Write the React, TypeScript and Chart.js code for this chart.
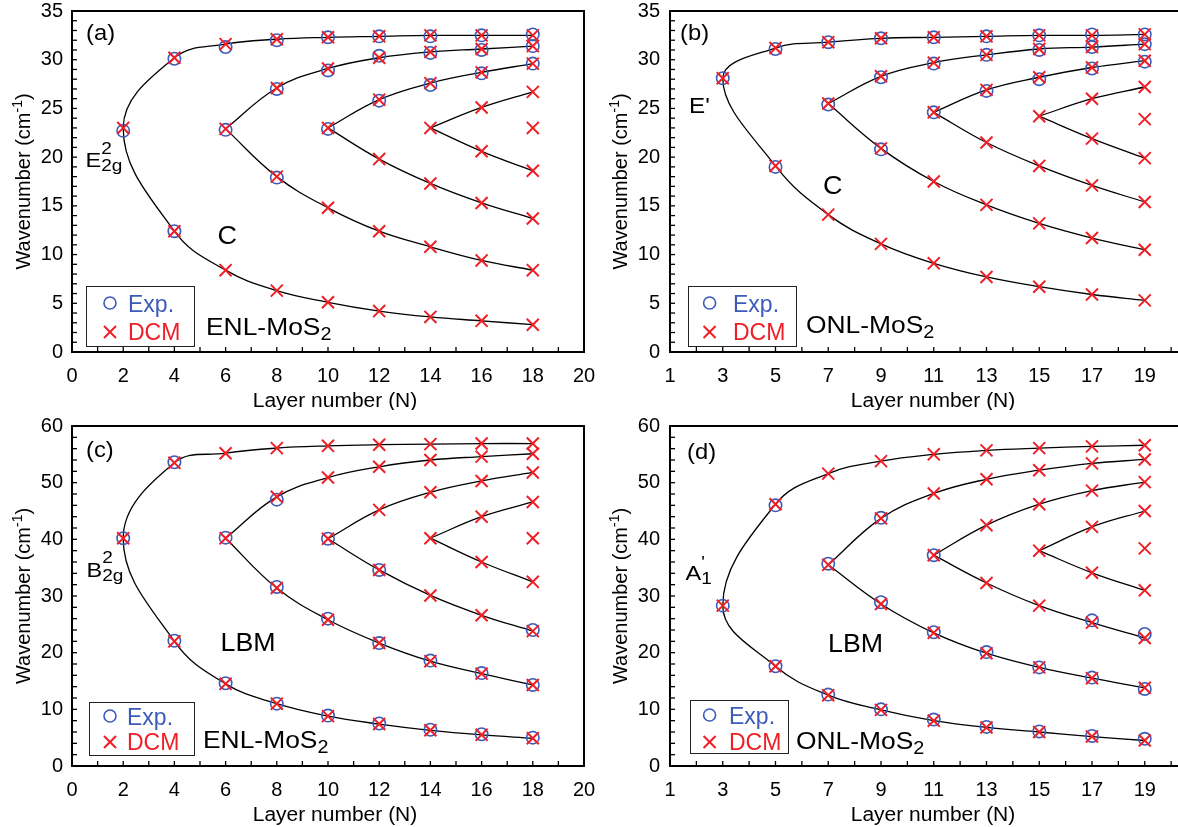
import React, { useEffect, useRef } from 'react';
import { Chart, registerables } from 'chart.js';

Chart.register(...registerables);

const FONT = '"Liberation Sans", Arial, Helvetica, sans-serif';
const BLUE = '#3c5bb8';
const RED = '#ee1f26';

// ---------------- (a) ENL-MoS2, C / E2g^2 modes ----------------
const A_N = [2, 4, 6, 8, 10, 12, 14, 16, 18];
const A_UP1 = [23.0, 30.2, 31.6, 32.1, 32.3, 32.4, 32.5, 32.5, 32.5];
const A_LO1 = [23.0, 12.4, 8.4, 6.3, 5.1, 4.2, 3.6, 3.2, 2.8];
const A_UP2 = [22.9, 27.1, 29.1, 30.2, 30.8, 31.1, 31.4];
const A_LO2 = [22.9, 18.0, 14.8, 12.4, 10.8, 9.4, 8.4];
const A_UP3 = [23.0, 25.9, 27.6, 28.7, 29.6];
const A_LO3 = [23.0, 19.8, 17.3, 15.3, 13.7];
const A_UP4 = [23.0, 25.1, 26.7];
const A_LO4 = [23.0, 20.6, 18.6];
const A_LONE = [23.0];
const A_EXP_N = [2, 4, 4, 6, 6, 8, 8, 8, 10, 10, 10, 12, 12, 12, 14, 14, 14, 16, 16, 16, 18, 18, 18];
const A_EXP_V = [22.7, 30.1, 12.4, 31.3, 22.8, 32.0, 27.0, 17.9, 32.3, 28.9, 22.9, 32.4, 30.4, 25.8, 32.4, 30.7, 27.4, 32.5, 31.0, 28.6, 32.6, 31.4, 29.6];

// ---------------- (b) ONL-MoS2, C / E' modes ----------------
const B_N = [3, 5, 7, 9, 11, 13, 15, 17, 19];
const B_UP1 = [28.1, 31.2, 31.8, 32.2, 32.3, 32.4, 32.5, 32.5, 32.6];
const B_LO1 = [28.1, 19.1, 14.1, 11.1, 9.1, 7.7, 6.7, 5.9, 5.3];
const B_UP2 = [25.5, 28.3, 29.7, 30.5, 31.1, 31.3, 31.6];
const B_LO2 = [25.5, 20.9, 17.5, 15.1, 13.2, 11.7, 10.5];
const B_UP3 = [24.6, 26.9, 28.2, 29.2, 29.9];
const B_LO3 = [24.6, 21.5, 19.1, 17.1, 15.4];
const B_UP4 = [24.2, 26.0, 27.2];
const B_LO4 = [24.2, 21.9, 19.9];
const B_LONE = [23.9];
const B_EXP_N = [3, 5, 5, 7, 7, 9, 9, 9, 11, 11, 11, 13, 13, 13, 15, 15, 15, 17, 17, 17, 19, 19, 19];
const B_EXP_V = [28.1, 31.1, 19.0, 31.8, 25.4, 32.2, 28.2, 20.8, 32.3, 29.6, 24.6, 32.4, 30.5, 26.8, 32.5, 31.0, 28.0, 32.6, 31.3, 29.1, 32.6, 31.6, 29.8];

// ---------------- (c) ENL-MoS2, LBM / B2g^2 modes ----------------
const C_N = [2, 4, 6, 8, 10, 12, 14, 16, 18];
const C_UP1 = [40.2, 53.5, 55.2, 56.1, 56.5, 56.7, 56.8, 56.9, 56.9];
const C_LO1 = [40.2, 22.0, 14.5, 11.0, 8.8, 7.4, 6.3, 5.5, 4.9];
const C_UP2 = [40.2, 47.5, 50.9, 52.8, 54.0, 54.6, 55.1];
const C_LO2 = [40.2, 31.4, 25.8, 21.7, 18.5, 16.3, 14.3];
const C_UP3 = [40.1, 45.2, 48.3, 50.3, 51.8];
const C_LO3 = [40.1, 34.6, 30.1, 26.6, 23.8];
const C_UP4 = [40.2, 44.0, 46.6];
const C_LO4 = [40.2, 36.0, 32.5];
const C_LONE = [40.2];
const C_EXP_N = [2, 4, 4, 6, 6, 8, 8, 8, 10, 10, 10, 12, 12, 12, 14, 14, 16, 16, 18, 18, 18];
const C_EXP_V = [40.2, 53.6, 22.1, 40.3, 14.6, 47.0, 31.6, 11.0, 40.1, 26.0, 8.9, 34.6, 21.7, 7.5, 18.6, 6.4, 16.4, 5.6, 24.0, 14.3, 5.0];

// ---------------- (d) ONL-MoS2, LBM / A1' modes ----------------
const D_N = [3, 5, 7, 9, 11, 13, 15, 17, 19];
const D_UP1 = [28.3, 46.2, 51.6, 53.8, 55.0, 55.7, 56.1, 56.4, 56.6];
const D_LO1 = [28.3, 17.6, 12.5, 9.9, 8.0, 6.8, 6.0, 5.2, 4.5];
const D_UP2 = [35.5, 43.7, 48.1, 50.6, 52.2, 53.4, 54.1];
const D_LO2 = [35.5, 28.6, 23.5, 19.9, 17.4, 15.5, 13.8];
const D_UP3 = [37.2, 42.5, 46.2, 48.6, 50.1];
const D_LO3 = [37.2, 32.3, 28.3, 25.3, 22.6];
const D_UP4 = [38.0, 42.2, 45.0];
const D_LO4 = [38.0, 34.1, 31.0];
const D_LONE = [38.4];
const D_EXP_N = [3, 5, 5, 7, 7, 9, 9, 9, 11, 11, 11, 13, 13, 15, 15, 17, 17, 17, 19, 19, 19];
const D_EXP_V = [28.3, 46.0, 17.6, 35.7, 12.6, 43.8, 28.9, 10.0, 37.2, 23.6, 8.2, 20.1, 6.9, 17.4, 6.1, 25.7, 15.6, 5.3, 23.3, 13.6, 4.8];

// axis ranges
const X_RANGE_EVEN = [0, 20];
const X_RANGE_ODD = [1, 21];
const Y_RANGE_C = [0, 35];
const Y_RANGE_LBM = [0, 60];

type Seg = { t: string; size: number; dy?: number; hold?: boolean; color?: string };
type Annot = { x: number; y: number; segs: Seg[]; sx?: number; rot?: boolean; align?: 'left' | 'center' };

type PanelCfg = {
  key: string;
  left: number; top: number; w: number; h: number;
  area: { l: number; t: number; r: number; b: number };
  n: number[]; ups: number[][]; los: number[][]; lone: number[];
  expN: number[]; expV: number[];
  xr: number[]; yr: number[]; yStep: number; yMinor: number; yPad: number;
  legend: { l: number; t: number; r: number; b: number; mx: number; y1: number; y2: number; tx: number; b1: number; b2: number };
  annots: Annot[];
};

const SUB2 = (main: string, size: number): Seg[] => [{ t: main, size }, { t: '2', size: 18, dy: 5 }];

const PANELS: PanelCfg[] = [
  {
    key: 'a', left: 0, top: 0, w: 600, h: 410,
    area: { l: 72, t: 11, r: 584, b: 352 },
    n: A_N, ups: [A_UP1, A_UP2, A_UP3, A_UP4], los: [A_LO1, A_LO2, A_LO3, A_LO4], lone: A_LONE,
    expN: A_EXP_N, expV: A_EXP_V, xr: X_RANGE_EVEN, yr: Y_RANGE_C, yStep: 5, yMinor: 1, yPad: 9,
    legend: { l: 86, t: 286, r: 194, b: 346, mx: 110, y1: 303, y2: 332, tx: 128, b1: 311.5, b2: 339.5 },
    annots: [
      { x: 86, y: 40, segs: [{ t: '(a)', size: 22 }], sx: 1.08 },
      { x: 85.5, y: 166.7, segs: [{ t: 'E', size: 21 }, { t: '2', size: 17, dy: -12.5, hold: true }, { t: '2g', size: 17, dy: 4 }], sx: 1.12 },
      { x: 217.5, y: 243.5, segs: [{ t: 'C', size: 25 }], sx: 1.08 },
      { x: 206, y: 335, segs: SUB2('ENL-MoS', 24), sx: 1.1 },
    ],
  },
  {
    key: 'b', left: 596, top: 0, w: 612, h: 410,
    area: { l: 670, t: 11, r: 1208, b: 352 },
    n: B_N, ups: [B_UP1, B_UP2, B_UP3, B_UP4], los: [B_LO1, B_LO2, B_LO3, B_LO4], lone: B_LONE,
    expN: B_EXP_N, expV: B_EXP_V, xr: X_RANGE_ODD, yr: Y_RANGE_C, yStep: 5, yMinor: 1, yPad: 10,
    legend: { l: 688, t: 286, r: 796, b: 346, mx: 709.6, y1: 303, y2: 332, tx: 733, b1: 311.5, b2: 339.5 },
    annots: [
      { x: 680, y: 40, segs: [{ t: '(b)', size: 22 }], sx: 1.08 },
      { x: 689, y: 113.3, segs: [{ t: "E'", size: 22 }], sx: 1.1 },
      { x: 823, y: 194, segs: [{ t: 'C', size: 25 }], sx: 1.08 },
      { x: 806, y: 333, segs: SUB2('ONL-MoS', 24), sx: 1.1 },
    ],
  },
  {
    key: 'c', left: 0, top: 410, w: 600, h: 417,
    area: { l: 72, t: 426, r: 584, b: 766 },
    n: C_N, ups: [C_UP1, C_UP2, C_UP3, C_UP4], los: [C_LO1, C_LO2, C_LO3, C_LO4], lone: C_LONE,
    expN: C_EXP_N, expV: C_EXP_V, xr: X_RANGE_EVEN, yr: Y_RANGE_LBM, yStep: 10, yMinor: 2, yPad: 9,
    legend: { l: 89, t: 702, r: 194, b: 755, mx: 110, y1: 716, y2: 742, tx: 127, b1: 725, b2: 750 },
    annots: [
      { x: 86, y: 457, segs: [{ t: '(c)', size: 22 }], sx: 1.08 },
      { x: 86.5, y: 576.7, segs: [{ t: 'B', size: 21 }, { t: '2', size: 17, dy: -13.5, hold: true }, { t: '2g', size: 17, dy: 4.5 }], sx: 1.12 },
      { x: 220.5, y: 650.5, segs: [{ t: 'LBM', size: 25 }], sx: 1.07 },
      { x: 203, y: 748.3, segs: SUB2('ENL-MoS', 24), sx: 1.1 },
    ],
  },
  {
    key: 'd', left: 596, top: 410, w: 612, h: 417,
    area: { l: 670, t: 426, r: 1208, b: 766 },
    n: D_N, ups: [D_UP1, D_UP2, D_UP3, D_UP4], los: [D_LO1, D_LO2, D_LO3, D_LO4], lone: D_LONE,
    expN: D_EXP_N, expV: D_EXP_V, xr: X_RANGE_ODD, yr: Y_RANGE_LBM, yStep: 10, yMinor: 2, yPad: 10,
    legend: { l: 690, t: 700, r: 788, b: 753, mx: 709.6, y1: 715, y2: 742, tx: 729, b1: 723.5, b2: 750 },
    annots: [
      { x: 687, y: 458.5, segs: [{ t: '(d)', size: 22 }], sx: 1.08 },
      { x: 685.5, y: 580, segs: [{ t: 'A', size: 21 }, { t: "'", size: 17, dy: -12, hold: true }, { t: '1', size: 17, dy: 4 }], sx: 1.12 },
      { x: 828, y: 652.3, segs: [{ t: 'LBM', size: 25 }], sx: 1.07 },
      { x: 796, y: 749, segs: SUB2('ONL-MoS', 24), sx: 1.1 },
    ],
  },
];

function setFont(ctx: CanvasRenderingContext2D, size: number) {
  ctx.font = `${size}px ${FONT}`;
}

function richWidth(ctx: CanvasRenderingContext2D, segs: Seg[]) {
  let w = 0;
  for (const s of segs) {
    setFont(ctx, s.size);
    if (!s.hold) w += ctx.measureText(s.t).width;
  }
  return w;
}

function drawRich(ctx: CanvasRenderingContext2D, segs: Seg[], x: number, y: number, sx = 1, align: 'left' | 'center' = 'left', rot = false) {
  ctx.save();
  ctx.translate(x, y);
  if (rot) ctx.rotate(-Math.PI / 2);
  ctx.scale(sx, 1);
  const w = richWidth(ctx, segs);
  let cx = align === 'center' ? -w / 2 : 0;
  ctx.textAlign = 'left';
  ctx.textBaseline = 'alphabetic';
  for (const s of segs) {
    setFont(ctx, s.size);
    ctx.fillStyle = s.color || '#000';
    ctx.fillText(s.t, cx, s.dy || 0);
    if (!s.hold) cx += ctx.measureText(s.t).width;
  }
  ctx.restore();
}

function drawCross(ctx: CanvasRenderingContext2D, x: number, y: number, r: number) {
  const o = r * Math.SQRT1_2;
  ctx.beginPath();
  ctx.moveTo(x - o, y - o); ctx.lineTo(x + o, y + o);
  ctx.moveTo(x + o, y - o); ctx.lineTo(x - o, y + o);
  ctx.stroke();
}

function decorPlugin(p: PanelCfg) {
  return {
    id: 'decor_' + p.key,
    afterDraw(chart: any) {
      const ctx: CanvasRenderingContext2D = chart.ctx;
      const ca = chart.chartArea;
      const xs = chart.scales.x;
      const ys = chart.scales.y;
      ctx.save();
      // inside ticks
      ctx.strokeStyle = '#000';
      ctx.lineWidth = 1.3;
      for (let v = p.xr[0]; v <= p.xr[1] + 1e-6; v += 1) {
        const px = xs.getPixelForValue(v);
        ctx.beginPath(); ctx.moveTo(px, ca.bottom); ctx.lineTo(px, ca.bottom - 5); ctx.stroke();
      }
      for (let v = p.yr[0]; v <= p.yr[1] + 1e-6; v += p.yMinor) {
        const py = ys.getPixelForValue(v);
        ctx.beginPath(); ctx.moveTo(ca.left, py); ctx.lineTo(ca.left + 5, py); ctx.stroke();
      }
      // frame
      ctx.lineWidth = 2;
      ctx.strokeRect(ca.left, ca.top, ca.right - ca.left, ca.bottom - ca.top);

      const ox = p.left, oy = p.top;
      // legend
      const L = p.legend;
      ctx.fillStyle = '#fff';
      ctx.fillRect(L.l - ox, L.t - oy, L.r - L.l, L.b - L.t);
      ctx.lineWidth = 1;
      ctx.strokeStyle = '#222';
      ctx.strokeRect(L.l - ox + 0.5, L.t - oy + 0.5, L.r - L.l, L.b - L.t);
      ctx.strokeStyle = BLUE; ctx.lineWidth = 1.6;
      ctx.beginPath(); ctx.arc(L.mx - ox, L.y1 - oy, 6, 0, Math.PI * 2); ctx.stroke();
      ctx.strokeStyle = RED; ctx.lineWidth = 2;
      drawCross(ctx, L.mx - ox, L.y2 - oy, 8.5);
      drawRich(ctx, [{ t: 'Exp.', size: 23, color: BLUE }], L.tx - ox, L.b1 - oy);
      drawRich(ctx, [{ t: 'DCM', size: 23, color: RED }], L.tx - ox, L.b2 - oy);

      // annotations
      for (const a of p.annots) {
        drawRich(ctx, a.segs, a.x - ox, a.y - oy, a.sx || 1, a.align || 'left', a.rot);
      }
      // axis titles
      const midX = ca.left + 263;
      drawRich(ctx, [{ t: 'Layer number (N)', size: 20 }], midX, ca.bottom + 54.5, 1.05, 'center');
      drawRich(ctx, [{ t: 'Wavenumber (cm', size: 20 }, { t: '-1', size: 14, dy: -8 }, { t: ')', size: 20 }],
        ca.left - (p.key === 'a' || p.key === 'c' ? 42.3 : 43), (ca.top + ca.bottom) / 2, 1, 'center', true);
      ctx.restore();
    },
  };
}

function lineDs(path: { x: number; y: number }[]) {
  return {
    data: path, showLine: true, borderColor: '#000', borderWidth: 1.3, tension: 0.4,
    pointRadius: 0, pointHoverRadius: 0, pointHitRadius: 0, fill: false, order: 3,
  };
}

function buildDatasets(p: PanelCfg) {
  const lines: any[] = [];
  const dcm: { x: number; y: number }[] = [];
  p.ups.forEach((up, i) => {
    const lo = p.los[i];
    const xs = p.n.slice(p.n.length - up.length);
    if (i === 0) {
      // outermost branch pair: one smooth curve through the vertex
      const path: { x: number; y: number }[] = [];
      for (let k = up.length - 1; k >= 0; k--) path.push({ x: xs[k], y: up[k] });
      for (let k = 1; k < lo.length; k++) path.push({ x: xs[k], y: lo[k] });
      lines.push(lineDs(path));
    } else {
      lines.push(lineDs(up.map((v, k) => ({ x: xs[k], y: v }))));
      lines.push(lineDs(lo.map((v, k) => ({ x: xs[k], y: v }))));
    }
    up.forEach((v, k) => dcm.push({ x: xs[k], y: v }));
    lo.slice(1).forEach((v, k) => dcm.push({ x: xs[k + 1], y: v }));
  });
  p.lone.forEach((v) => dcm.push({ x: p.n[p.n.length - 1], y: v }));
  const exp = p.expN.map((n, i) => ({ x: n, y: p.expV[i] }));
  return [
    { data: dcm, pointStyle: 'crossRot', pointRadius: 8.5, pointBorderColor: RED, borderColor: RED, pointBorderWidth: 2, showLine: false, order: 0 },
    { data: exp, pointStyle: 'circle', pointRadius: 6.2, pointBorderColor: BLUE, borderColor: BLUE, pointBackgroundColor: 'rgba(0,0,0,0)', pointBorderWidth: 1.6, showLine: false, order: 1 },
    ...lines,
  ];
}

function Panel({ p }: { p: PanelCfg }) {
  const ref = useRef<HTMLCanvasElement>(null);
  useEffect(() => {
    const yW = p.area.l - p.left;
    const xH = p.top + p.h - p.area.b;
    const chart = new Chart(ref.current as HTMLCanvasElement, {
      type: 'scatter',
      data: { datasets: buildDatasets(p) as any },
      options: {
        animation: false,
        responsive: false,
        maintainAspectRatio: false,
        events: [],
        layout: { padding: { left: 0, top: p.area.t - p.top, right: p.left + p.w - p.area.r, bottom: 0 } },
        plugins: { legend: { display: false }, tooltip: { enabled: false } },
        scales: {
          x: {
            type: 'linear', min: p.xr[0], max: p.xr[1],
            grid: { display: false, drawTicks: false },
            border: { display: false },
            ticks: { stepSize: 2, color: '#000', font: { family: FONT, size: 20 }, padding: 12, maxRotation: 0, autoSkip: false },
            afterFit: (s: any) => { s.height = xH; s.paddingLeft = 0; s.paddingRight = 0; s.paddingTop = 0; s.paddingBottom = 0; },
          },
          y: {
            type: 'linear', min: p.yr[0], max: p.yr[1],
            grid: { display: false, drawTicks: false },
            border: { display: false },
            ticks: { stepSize: p.yStep, color: '#000', font: { family: FONT, size: 20 }, padding: p.yPad },
            afterFit: (s: any) => { s.width = yW; s.paddingLeft = 0; s.paddingRight = 0; s.paddingTop = 0; s.paddingBottom = 0; },
          },
        },
      } as any,
      plugins: [decorPlugin(p)],
    });
    return () => chart.destroy();
  }, [p]);
  return (
    <canvas
      ref={ref}
      width={p.w}
      height={p.h}
      style={{ position: 'absolute', left: p.left, top: p.top, width: p.w, height: p.h }}
    />
  );
}

export default function App() {
  return (
    <div style={{ position: 'fixed', left: 0, top: 0, width: 1178, height: 827, overflow: 'hidden', background: '#fff' }}>
      {PANELS.map((p) => (
        <Panel key={p.key} p={p} />
      ))}
    </div>
  );
}
